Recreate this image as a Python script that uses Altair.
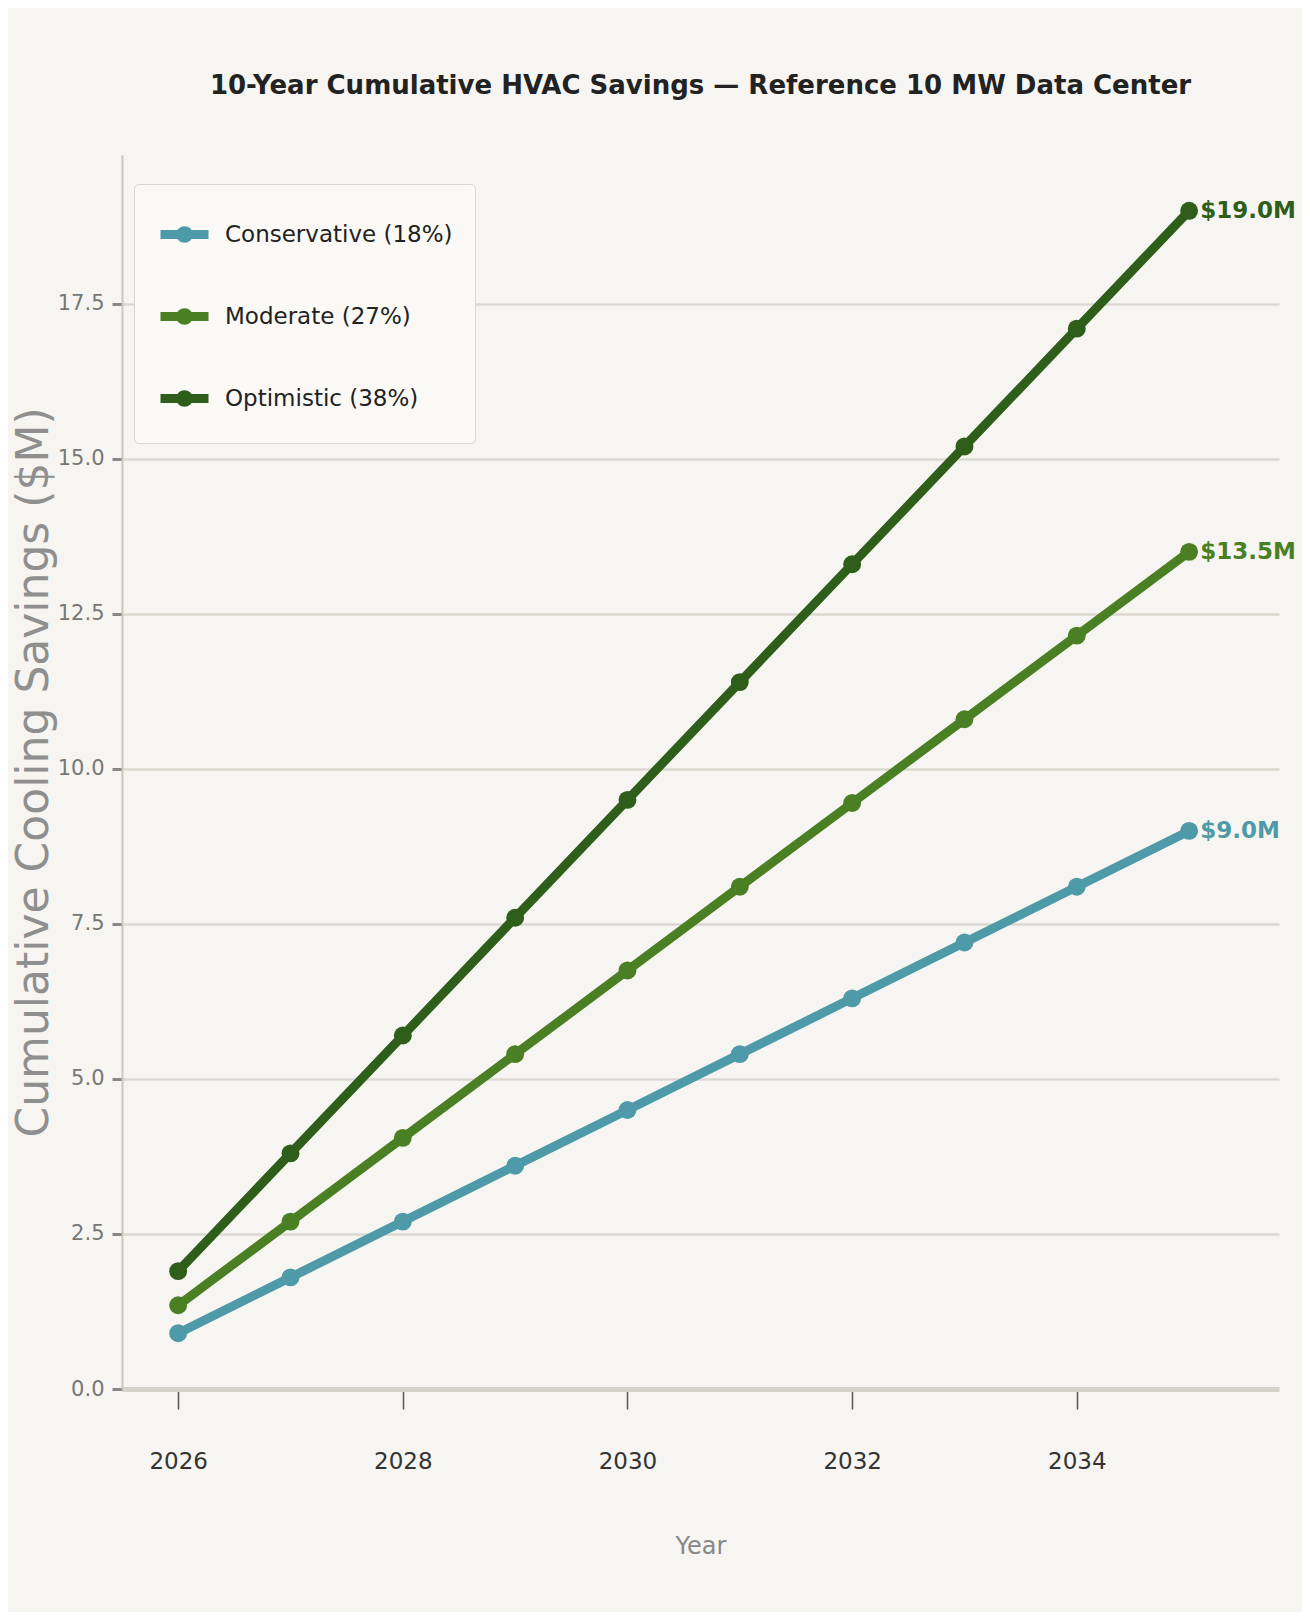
import altair as alt
import pandas as pd

years = [2026, 2027, 2028, 2029, 2030, 2031, 2032, 2033, 2034, 2035]
conservative = [0.9, 1.8, 2.7, 3.6, 4.5, 5.4, 6.3, 7.2, 8.1, 9.0]
moderate = [1.35, 2.7, 4.05, 5.4, 6.75, 8.1, 9.45, 10.8, 12.15, 13.5]
optimistic = [1.9, 3.8, 5.7, 7.6, 9.5, 11.4, 13.3, 15.2, 17.1, 19.0]
series_names = ["Conservative (18%)", "Moderate (27%)", "Optimistic (38%)"]
series_colors = ["#4f9aa8", "#4a7f23", "#2e5e1a"]
end_labels = ["$9.0M", "$13.5M", "$19.0M"]
y_ticks = [0.0, 2.5, 5.0, 7.5, 10.0, 12.5, 15.0, 17.5]
x_ticks = [2026, 2028, 2030, 2032, 2034]

rows = []
for name, vals, lab in zip(series_names, [conservative, moderate, optimistic], end_labels):
    for i, (yr, v) in enumerate(zip(years, vals)):
        rows.append({"Year": yr, "Savings": v, "Scenario": name,
                     "Label": lab if i == len(years) - 1 else ""})
df = pd.DataFrame(rows)

FONT = "'DejaVu Sans', sans-serif"

color_scale = alt.Scale(domain=series_names, range=series_colors)
x_enc = alt.X("Year:Q", scale=alt.Scale(domain=[2025.5, 2035.8], nice=False, zero=False),
              axis=alt.Axis(values=x_ticks, format="d", title="Year", grid=False,
                            labelFont=FONT, labelFontSize=23, labelColor="#333333",
                            tickColor="#555555", tickWidth=1.5, tickSize=20, labelPadding=41,
                            domainColor="#d3d1ca", domainWidth=5,
                            titleFont=FONT, titleFontSize=24, titleColor="#888888",
                            titleFontWeight="normal", titlePadding=61))
y_enc = alt.Y("Savings:Q", scale=alt.Scale(domain=[0, 19.9], nice=False),
              axis=alt.Axis(values=y_ticks, format=".1f", title="Cumulative Cooling Savings ($M)",
                            grid=True, gridColor="#dbd8d1", gridWidth=2.5,
                            labelFont=FONT, labelFontSize=21, labelColor="#777777",
                            tickColor="#888888", tickWidth=3, tickSize=10, labelPadding=8,
                            domainColor="#c9c7c0", domainWidth=2,
                            titleFont=FONT, titleFontSize=44, titleColor="#8f8f8f",
                            titleFontWeight="normal", titleAngle=270, titleBaseline="middle",
                            titleAlign="center", titleX=-88, titleY=617))

symbol_path = "M-1,0L1,0M-0.16,0A0.16,0.16 0 1,0 0.16,0A0.16,0.16 0 1,0 -0.16,0"

lines = alt.Chart(df).mark_line(strokeWidth=9, strokeCap="round").encode(
    x=x_enc, y=y_enc,
    color=alt.Color("Scenario:N", scale=color_scale, sort=series_names,
                    legend=alt.Legend(title=None, orient="none", legendX=12, legendY=29,
                                      symbolType=symbol_path, symbolSize=2304,
                                      symbolStrokeWidth=9, symbolOpacity=1,
                                      labelFont=FONT, labelFontSize=23, labelColor="#222222",
                                      labelOffset=12, rowPadding=31, padding=22,
                                      fillColor="#faf9f6", strokeColor="#d9d7d0",
                                      cornerRadius=5, labelLimit=400))
)
points = alt.Chart(df).mark_circle(size=320, opacity=1).encode(
    x="Year:Q", y="Savings:Q",
    color=alt.Color("Scenario:N", scale=color_scale, legend=None)
)
labels = alt.Chart(df).transform_filter(alt.datum.Label != "").mark_text(
    align="left", baseline="middle", dx=11, font=FONT, fontSize=23, fontWeight="bold"
).encode(
    x="Year:Q", y="Savings:Q", text="Label:N",
    color=alt.Color("Scenario:N", scale=color_scale, legend=None)
)

chart = alt.layer(lines, points, labels).properties(
    width=1157, height=1234,
    title=alt.TitleParams("10-Year Cumulative HVAC Savings \u2014 Reference 10 MW Data Center",
                          font=FONT, fontSize=26, fontWeight="bold", color="#222222",
                          anchor="middle", offset=56),
    autosize=alt.AutoSizeParams(type="none"),
    padding={"left": 114, "top": 147, "right": 23, "bottom": 223},
    background="#f6f5f1"
).configure_view(stroke=None, fill="#f6f5f1")

chart.save("out.html", embed_options={"renderer": "svg", "actions": False})
